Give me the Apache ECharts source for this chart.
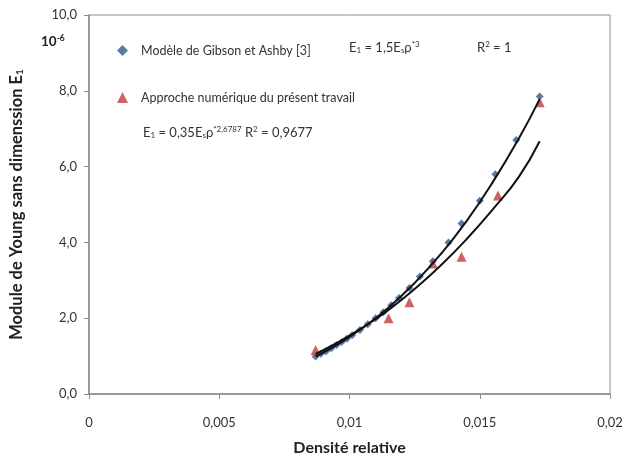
<!DOCTYPE html>
<html>
<head>
<meta charset="utf-8">
<script src="https://cdn.jsdelivr.net/npm/echarts@6/dist/echarts.min.js"></script>
<style>
  html, body { margin: 0; padding: 0; background: #fff; }
  #chart { width: 629px; height: 464px; }
</style>
</head>
<body>
<div id="chart"></div>
<script>
// Modèle de Gibson et Ashby (losanges bleus)
var gibsonX = [0.0087, 0.0089, 0.0091, 0.0093, 0.0095, 0.0097, 0.0099, 0.0101, 0.0104, 0.0107, 0.0110, 0.0113, 0.0116, 0.0119, 0.0123, 0.0127, 0.0132, 0.0138, 0.0143, 0.0150, 0.0156, 0.0164, 0.0173];
var gibsonY = [0.99, 1.06, 1.13, 1.21, 1.29, 1.37, 1.46, 1.55, 1.69, 1.84, 2.00, 2.16, 2.34, 2.53, 2.80, 3.10, 3.50, 4.00, 4.50, 5.10, 5.80, 6.70, 7.85];
// Approche numérique (triangles rouges)
var numX = [0.0087, 0.0115, 0.0123, 0.0132, 0.0143, 0.0157, 0.0173];
var numY = [1.16, 2.00, 2.42, 3.44, 3.62, 5.24, 7.70];
// courbes de tendance
var trendGibsonX = [0.0087, 0.0095, 0.0105, 0.0115, 0.0125, 0.0135, 0.0145, 0.0155, 0.0165, 0.0173];
var trendGibsonY = [0.99, 1.29, 1.74, 2.28, 2.93, 3.69, 4.57, 5.59, 6.74, 7.78];
var trendNumX = [0.0087, 0.0095, 0.0105, 0.0115, 0.0125, 0.0135, 0.0145, 0.0155, 0.0165, 0.0173];
var trendNumY = [1.06, 1.34, 1.75, 2.22, 2.77, 3.39, 4.09, 4.87, 5.73, 6.67];
var xTicks = ['0', '0,005', '0,01', '0,015', '0,02'];

function pairs(xs, ys) {
    return xs.map(function (x, i) { return [x, ys[i]]; });
}

var chart = echarts.init(document.getElementById('chart'));
var textColor = '#333';
var font = 'Lato, "Open Sans", sans-serif';

chart.setOption({
    animation: false,
    textStyle: { fontFamily: font },
    grid: {
        left: 89, right: 19, top: 15, bottom: 70,
        show: true, borderColor: '#8c8c8c', borderWidth: 1
    },
    legend: {
        left: 112, top: 39, orient: 'vertical', itemGap: 34,
        itemWidth: 11, itemHeight: 11,
        textStyle: { fontSize: 12.5, color: textColor, fontFamily: font, padding: [0, 0, 0, 8] },
        data: [
            { name: 'Modèle de Gibson et Ashby [3]', icon: 'diamond' },
            { name: 'Approche numérique du présent travail', icon: 'triangle' }
        ]
    },
    xAxis: {
        type: 'value', min: 0, max: 0.02, interval: 0.005,
        name: 'Densité relative', nameLocation: 'middle', nameGap: 46,
        nameTextStyle: { fontSize: 16, fontWeight: 'bold', color: '#222', fontFamily: font },
        axisLine: { lineStyle: { color: '#8c8c8c', width: 1.5 } },
        axisTick: { show: true, length: 5, lineStyle: { color: '#8c8c8c' } },
        splitLine: { show: false },
        axisLabel: {
            fontSize: 13, color: textColor, margin: 22,
            formatter: function (v) { return xTicks[Math.round(v / 0.005)]; }
        }
    },
    yAxis: {
        type: 'value', min: 0, max: 10, interval: 2,
        name: '{t|Module de Young sans dimenssion E}{s|1}',
        nameLocation: 'middle', nameGap: 64, nameRotate: 90,
        nameTextStyle: {
            rich: {
                t: { fontSize: 16.5, fontWeight: 'bold', color: '#222', fontFamily: font },
                s: { fontSize: 10, fontWeight: 'bold', color: '#222', fontFamily: font, padding: [7, 0, 0, 0] }
            }
        },
        axisLine: { show: true, lineStyle: { color: '#8c8c8c', width: 1.5 } },
        axisTick: { show: true, length: 5, lineStyle: { color: '#8c8c8c' } },
        splitLine: { show: false },
        axisLabel: {
            fontSize: 13, color: textColor, margin: 12,
            formatter: function (v) { return v.toFixed(1).replace('.', ','); }
        }
    },
    graphic: [
        {
            type: 'text', left: 41, top: 34,
            style: {
                text: '{b|10}{p|-6}',
                rich: {
                    b: { fontSize: 13.5, fontWeight: 'bold', fill: '#222', fontFamily: font },
                    p: { fontSize: 8.5, fontWeight: 'bold', fill: '#222', fontFamily: font, padding: [0, 0, 7, 0] }
                }
            }
        },
        {
            type: 'text', left: 349, top: 40,
            style: {
                text: '{t|E}{s|1}{t| = 1,5E}{s|s}{t|ρ}{p|*3}',
                rich: {
                    t: { fontSize: 13, fill: textColor, fontFamily: font },
                    s: { fontSize: 8, fill: textColor, fontFamily: font, padding: [6, 0, 0, 0] },
                    p: { fontSize: 8, fill: textColor, fontFamily: font, padding: [0, 0, 7, 0] }
                }
            }
        },
        {
            type: 'text', left: 477, top: 40,
            style: {
                text: '{t|R}{p|2}{t| = 1}',
                rich: {
                    t: { fontSize: 13, fill: textColor, fontFamily: font },
                    p: { fontSize: 8, fill: textColor, fontFamily: font, padding: [0, 0, 7, 0] }
                }
            }
        },
        {
            type: 'text', left: 143, top: 125,
            style: {
                text: '{t|E}{s|1}{t| = 0,35E}{s|s}{t|ρ}{p|*2,6787}{t| R}{p|2}{t| = 0,9677}',
                rich: {
                    t: { fontSize: 13, fill: textColor, fontFamily: font },
                    s: { fontSize: 8, fill: textColor, fontFamily: font, padding: [6, 0, 0, 0] },
                    p: { fontSize: 8, fill: textColor, fontFamily: font, padding: [0, 0, 7, 0] }
                }
            }
        }
    ],
    series: [
        {
            name: 'Modèle de Gibson et Ashby [3]',
            type: 'scatter', symbol: 'diamond', symbolSize: 8,
            itemStyle: { color: '#2f5a8e' },
            data: pairs(gibsonX, gibsonY), z: 3
        },
        {
            name: 'Approche numérique du présent travail',
            type: 'scatter', symbol: 'triangle', symbolSize: 10,
            itemStyle: { color: '#c23b3e' },
            data: pairs(numX, numY), z: 3
        },
        {
            name: 'tendance Gibson',
            type: 'line', smooth: true, showSymbol: false, symbol: 'none',
            lineStyle: { color: '#111', width: 2 },
            data: pairs(trendGibsonX, trendGibsonY), z: 4
        },
        {
            name: 'tendance numérique',
            type: 'line', smooth: true, showSymbol: false, symbol: 'none',
            lineStyle: { color: '#111', width: 2 },
            data: pairs(trendNumX, trendNumY), z: 4
        }
    ]
});
</script>
</body>
</html>
